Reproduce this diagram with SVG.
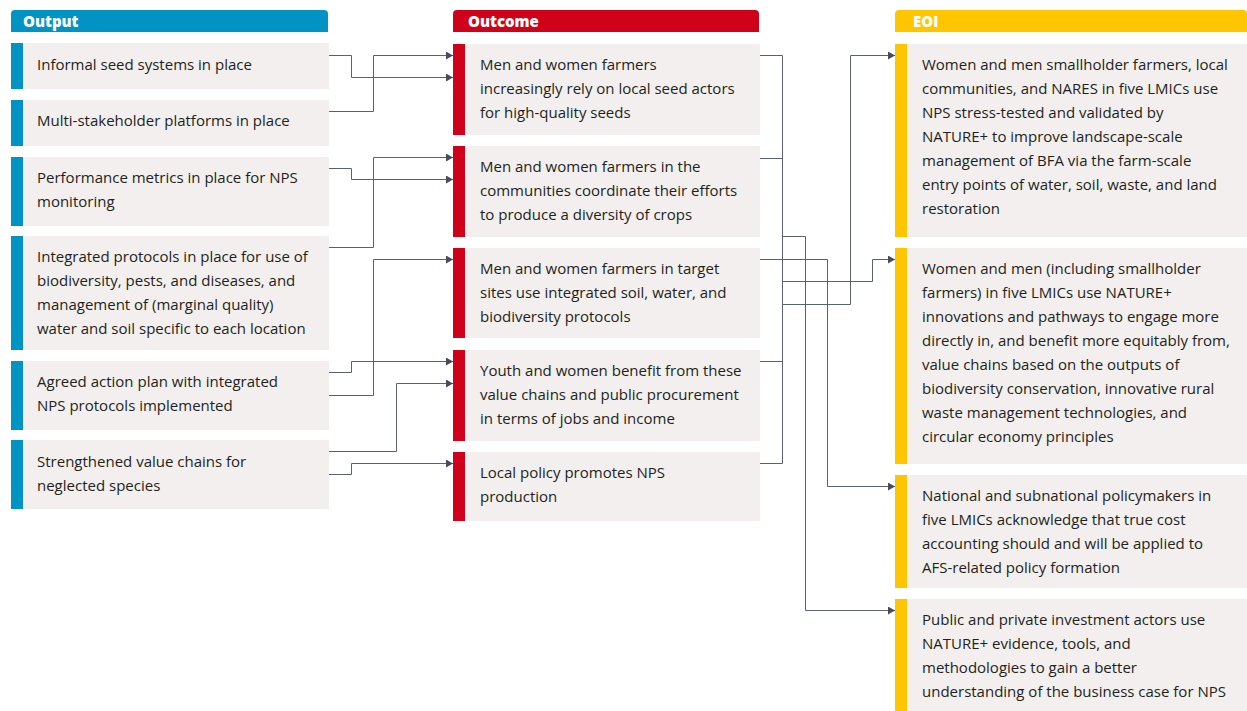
<svg xmlns="http://www.w3.org/2000/svg" width="1247" height="711" viewBox="0 0 1247 711">
  <style>
    .card { fill: #f2efee; }
    .t { font-family: "Open Sans", "Liberation Sans", Arial, sans-serif; font-size: 15px; fill: #231f20; }
    .h { font-family: "Open Sans", "Liberation Sans", Arial, sans-serif; font-size: 15px; font-weight: 800; fill: #ffffff; }
    .blue { fill: #0093c4; }
    .red { fill: #d0021b; }
    .yellow { fill: #ffc600; }
    .wire { fill: none; stroke: #5b6170; stroke-width: 1; }
    .arr { fill: none; stroke: #5b6170; stroke-width: 1; marker-end: url(#tip); }
  </style>
  <defs>
    <marker id="tip" viewBox="0 0 7 8" refX="7" refY="4" markerWidth="7" markerHeight="8" markerUnits="userSpaceOnUse" orient="auto">
      <path d="M0,0 L7,4 L0,8 z" fill="#454c5c"/>
    </marker>
  </defs>
  <rect width="1247" height="711" fill="#ffffff"/>

  <!-- column headers -->
  <g id="header-output">
    <path class="blue" d="M11,32 V14 a4,4 0 0 1 4,-4 H324 a4,4 0 0 1 4,4 V32 z"/>
    <text class="h" x="23" y="27">Output</text>
  </g>
  <g id="header-outcome">
    <path class="red" d="M453,32 V14 a4,4 0 0 1 4,-4 H755 a4,4 0 0 1 4,4 V32 z"/>
    <text class="h" x="468" y="27">Outcome</text>
  </g>
  <g id="header-eoi">
    <path class="yellow" d="M895,32 V14 a4,4 0 0 1 4,-4 H1243 a4,4 0 0 1 4,4 V32 z"/>
    <text class="h" x="913" y="27">EOI</text>
  </g>

  <!-- outputs -->
  <g id="output-1">
    <rect class="card" x="11" y="43" width="318" height="46"/><rect class="blue" x="11" y="43" width="12" height="46"/>
    <text class="t" x="37" y="70">Informal seed systems in place</text>
  </g>
  <g id="output-2">
    <rect class="card" x="11" y="100" width="318" height="46"/><rect class="blue" x="11" y="100" width="12" height="46"/>
    <text class="t" x="37" y="126">Multi-stakeholder platforms in place</text>
  </g>
  <g id="output-3">
    <rect class="card" x="11" y="157" width="318" height="69"/><rect class="blue" x="11" y="157" width="12" height="69"/>
    <text class="t" x="37" y="183">Performance metrics in place for NPS</text>
    <text class="t" x="37" y="207">monitoring</text>
  </g>
  <g id="output-4">
    <rect class="card" x="11" y="236" width="318" height="114"/><rect class="blue" x="11" y="236" width="12" height="114"/>
    <text class="t" x="37" y="262">Integrated protocols in place for use of</text>
    <text class="t" x="37" y="286">biodiversity, pests, and diseases, and</text>
    <text class="t" x="37" y="310">management of (marginal quality)</text>
    <text class="t" x="37" y="334">water and soil specific to each location</text>
  </g>
  <g id="output-5">
    <rect class="card" x="11" y="361" width="318" height="69"/><rect class="blue" x="11" y="361" width="12" height="69"/>
    <text class="t" x="37" y="387">Agreed action plan with integrated</text>
    <text class="t" x="37" y="411">NPS protocols implemented</text>
  </g>
  <g id="output-6">
    <rect class="card" x="11" y="440" width="318" height="69"/><rect class="blue" x="11" y="440" width="12" height="69"/>
    <text class="t" x="37" y="467">Strengthened value chains for</text>
    <text class="t" x="37" y="491">neglected species</text>
  </g>

  <!-- outcomes -->
  <g id="outcome-1">
    <rect class="card" x="453" y="44" width="307" height="91"/><rect class="red" x="453" y="44" width="12" height="91"/>
    <text class="t" x="480" y="70">Men and women farmers</text>
    <text class="t" x="480" y="94">increasingly rely on local seed actors</text>
    <text class="t" x="480" y="118">for high-quality seeds</text>
  </g>
  <g id="outcome-2">
    <rect class="card" x="453" y="146" width="307" height="91"/><rect class="red" x="453" y="146" width="12" height="91"/>
    <text class="t" x="480" y="172">Men and women farmers in the</text>
    <text class="t" x="480" y="196">communities coordinate their efforts</text>
    <text class="t" x="480" y="220">to produce a diversity of crops</text>
  </g>
  <g id="outcome-3">
    <rect class="card" x="453" y="248" width="307" height="90"/><rect class="red" x="453" y="248" width="12" height="90"/>
    <text class="t" x="480" y="274">Men and women farmers in target</text>
    <text class="t" x="480" y="298">sites use integrated soil, water, and</text>
    <text class="t" x="480" y="322">biodiversity protocols</text>
  </g>
  <g id="outcome-4">
    <rect class="card" x="453" y="350" width="307" height="91"/><rect class="red" x="453" y="350" width="12" height="91"/>
    <text class="t" x="480" y="376">Youth and women benefit from these</text>
    <text class="t" x="480" y="400">value chains and public procurement</text>
    <text class="t" x="480" y="424">in terms of jobs and income</text>
  </g>
  <g id="outcome-5">
    <rect class="card" x="453" y="452" width="307" height="69"/><rect class="red" x="453" y="452" width="12" height="69"/>
    <text class="t" x="480" y="478">Local policy promotes NPS</text>
    <text class="t" x="480" y="502">production</text>
  </g>

  <!-- end-of-initiative outcomes -->
  <g id="eoi-1">
    <rect class="card" x="895" y="44" width="352" height="193"/><rect class="yellow" x="895" y="44" width="12" height="193"/>
    <text class="t" x="922" y="70">Women and men smallholder farmers, local</text>
    <text class="t" x="922" y="94">communities, and NARES in five LMICs use</text>
    <text class="t" x="922" y="118">NPS stress-tested and validated by</text>
    <text class="t" x="922" y="142">NATURE+ to improve landscape-scale</text>
    <text class="t" x="922" y="166">management of BFA via the farm-scale</text>
    <text class="t" x="922" y="190">entry points of water, soil, waste, and land</text>
    <text class="t" x="922" y="214">restoration</text>
  </g>
  <g id="eoi-2">
    <rect class="card" x="895" y="248" width="352" height="216"/><rect class="yellow" x="895" y="248" width="12" height="216"/>
    <text class="t" x="922" y="274">Women and men (including smallholder</text>
    <text class="t" x="922" y="298">farmers) in five LMICs use NATURE+</text>
    <text class="t" x="922" y="322">innovations and pathways to engage more</text>
    <text class="t" x="922" y="346">directly in, and benefit more equitably from,</text>
    <text class="t" x="922" y="370">value chains based on the outputs of</text>
    <text class="t" x="922" y="394">biodiversity conservation, innovative rural</text>
    <text class="t" x="922" y="418">waste management technologies, and</text>
    <text class="t" x="922" y="442">circular economy principles</text>
  </g>
  <g id="eoi-3">
    <rect class="card" x="895" y="475" width="352" height="113"/><rect class="yellow" x="895" y="475" width="12" height="113"/>
    <text class="t" x="922" y="501">National and subnational policymakers in</text>
    <text class="t" x="922" y="525">five LMICs acknowledge that true cost</text>
    <text class="t" x="922" y="549">accounting should and will be applied to</text>
    <text class="t" x="922" y="573">AFS-related policy formation</text>
  </g>
  <g id="eoi-4">
    <rect class="card" x="895" y="599" width="352" height="112"/><rect class="yellow" x="895" y="599" width="12" height="112"/>
    <text class="t" x="922" y="625">Public and private investment actors use</text>
    <text class="t" x="922" y="649">NATURE+ evidence, tools, and</text>
    <text class="t" x="922" y="673">methodologies to gain a better</text>
    <text class="t" x="922" y="697">understanding of the business case for NPS</text>
  </g>

  <!-- connectors -->
  <g id="connectors">
    <!-- outputs to outcomes -->
    <path class="arr" d="M329,55.5 H351.5 V77.5 H453"/>
    <path class="arr" d="M329,111.5 H373.5 V55.5 H453"/>
    <path class="arr" d="M329,168.5 H351.5 V179.5 H453"/>
    <path class="arr" d="M329,247.5 H373.5 V157.5 H453"/>
    <path class="arr" d="M329,395.5 H373.5 V259.5 H453"/>
    <path class="arr" d="M329,372.5 H351.5 V361.5 H453"/>
    <path class="arr" d="M329,451.5 H396.5 V383.5 H453"/>
    <path class="arr" d="M329,474.5 H351.5 V463.5 H453"/>
    <!-- outcomes to EOIs -->
    <path class="wire" d="M760,55.5 H782.5 V463.5 H760"/>
    <path class="wire" d="M760,158.5 H782.5"/>
    <path class="wire" d="M760,361.5 H782.5"/>
    <path class="arr" d="M782.5,236.5 H805.5 V610.5 H895"/>
    <path class="arr" d="M782.5,281.5 H872.5 V259.5 H895"/>
    <path class="arr" d="M782.5,304.5 H850.5 V55.5 H895"/>
    <path class="arr" d="M760,259.5 H827.5 V486.5 H895"/>
  </g>
</svg>
